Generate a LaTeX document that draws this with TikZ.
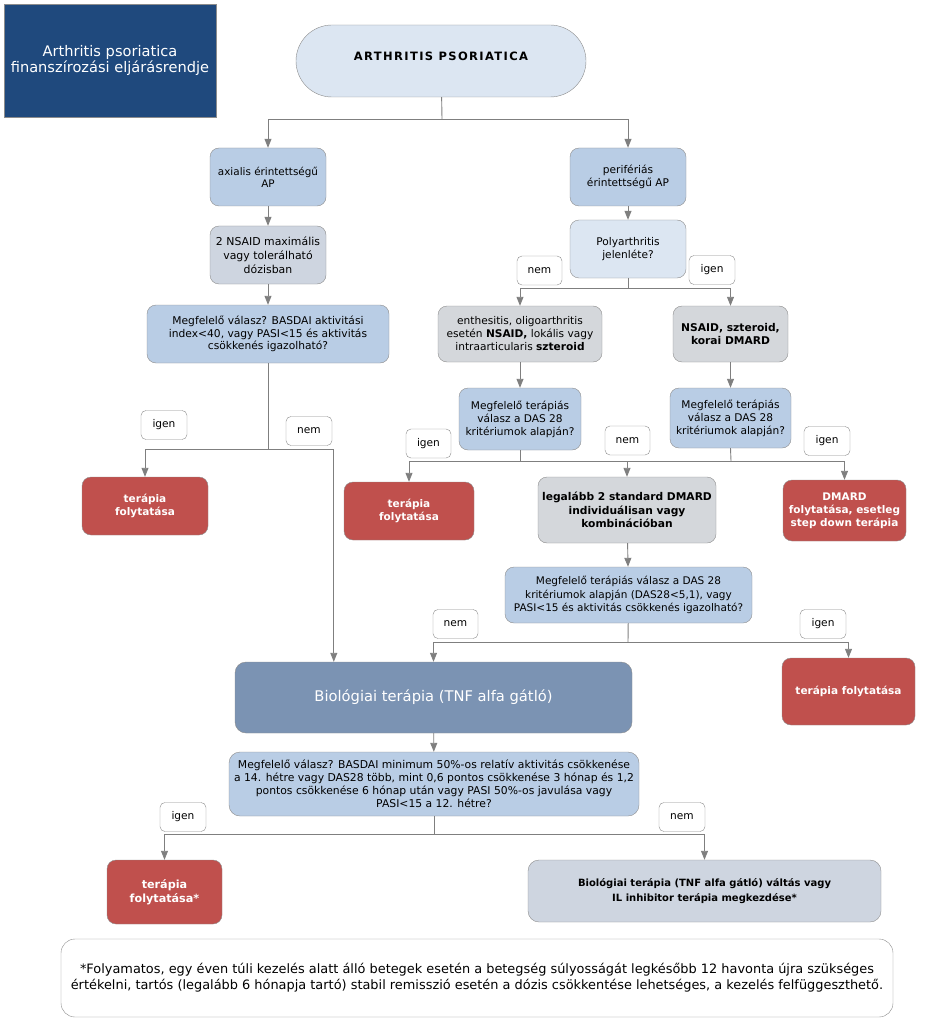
\documentclass[tikz,border=0pt]{standalone}
\usepackage{fontspec}
\setmainfont{DejaVu Sans}
\newfontfamily\spacedfont{DejaVu Sans}[LetterSpace=12]
\usetikzlibrary{arrows.meta}

\definecolor{titleblue}{HTML}{1F497D}
\definecolor{boxblue}{HTML}{B9CDE5}
\definecolor{paleblue}{HTML}{DCE6F2}
\definecolor{boxgray}{HTML}{D4D7DB}
\definecolor{bluegray}{HTML}{CED5E0}
\definecolor{boxred}{HTML}{C0504D}
\definecolor{steelblue}{HTML}{7B93B3}
\definecolor{framegray}{HTML}{8C8C8C}
\definecolor{linegray}{HTML}{7F7F7F}

\begin{document}
\begin{tikzpicture}[x=1pt,y=-1pt,
  box/.style={draw=framegray, rounded corners=9pt, align=center, inner sep=0pt,
    font=\fontsize{10.6}{13}\selectfont},
  bluebox/.style={box, fill=boxblue},
  palebox/.style={box, fill=paleblue},
  graybox/.style={box, fill=boxgray},
  boldbox/.style={box, fill=boxgray, font=\fontsize{10.7}{13.3}\selectfont\bfseries},
  redbox/.style={box, fill=boxred, text=white, font=\fontsize{10.5}{13}\selectfont\bfseries},
  tag/.style={draw=framegray, fill=white, rounded corners=5pt, minimum width=46pt,
    minimum height=29pt, inner sep=0pt, font=\fontsize{10.6}{13}\selectfont},
  conn/.style={draw=linegray, line width=0.9pt},
  arr/.style={conn, -{Triangle[width=7pt,length=9pt]}}
]
\useasboundingbox (0,0) rectangle (930,1024);

% header
\node[fill=titleblue, draw=framegray, text=white, align=center, minimum width=212pt,
  minimum height=113pt, inner sep=0pt, font=\fontsize{14.6}{15.5}\selectfont] (title) at (110,60.5)
  {Arthritis psoriatica\\finanszírozási eljárásrendje};
\node[palebox, rounded corners=36pt, minimum width=290pt, minimum height=72pt,
  font=\spacedfont\fontsize{11.5}{13}\selectfont\bfseries] (start) at (441,61)
  {\raisebox{10pt}{ARTHRITIS PSORIATICA}};

% axialis ag
\node[bluebox, minimum width=116pt, minimum height=58pt, font=\fontsize{10.4}{12}\selectfont] (axial) at (268,177)
  {axialis érintettségű\\AP};
\node[box, fill=bluegray, minimum width=116pt, minimum height=58pt, font=\fontsize{10.9}{14}\selectfont] (nsaid) at (268,255)
  {2 NSAID maximális\\vagy tolerálható\\dózisban};
\node[bluebox, minimum width=242pt, minimum height=58pt, font=\fontsize{10.7}{12.5}\selectfont] (basdai) at (268,334)
  {Megfelelő válasz? BASDAI aktivitási\\index<40, vagy PASI<15 és aktivitás\\csökkenés igazolható?};
\node[redbox, minimum width=126pt, minimum height=58pt] (ter1) at (145,506)
  {terápia\\folytatása};
\node[tag] (igen1) at (164,425) {igen};
\node[tag] (nem1) at (309,431) {nem};

% periferias ag
\node[bluebox, minimum width=116pt, minimum height=58pt] (periph) at (628,177)
  {perifériás\\érintettségű AP};
\node[palebox, minimum width=116pt, minimum height=58pt] (poly) at (628,249)
  {Polyarthritis\\jelenléte?};
\node[tag, minimum width=45pt] (nem2) at (539.5,270.5) {nem};
\node[tag] (igen2) at (712,270) {igen};
\node[graybox, minimum width=164pt, minimum height=56pt] (enthes) at (520,334)
  {enthesitis, oligoarthritis\\esetén \textbf{NSAID,} lokális vagy\\intraarticularis \textbf{szteroid}};
\node[boldbox, minimum width=115pt, minimum height=56pt] (nsaid2) at (730.5,334)
  {NSAID, szteroid,\\korai DMARD};
\node[bluebox, minimum width=122pt, minimum height=62pt] (das1) at (520,419)
  {Megfelelő terápiás\\válasz a DAS 28\\kritériumok alapján?};
\node[bluebox, minimum width=121pt, minimum height=60pt] (das2) at (730.5,418)
  {Megfelelő terápiás\\válasz a DAS 28\\kritériumok alapján?};
\node[tag, minimum width=45pt] (igen3) at (428.5,443.5) {igen};
\node[tag, minimum width=45pt] (nem3) at (627.5,440.5) {nem};
\node[tag] (igen4) at (827,441) {igen};
\node[redbox, minimum width=130pt, minimum height=58pt] (ter2) at (409,511)
  {terápia\\folytatása};
\node[boldbox, minimum width=178pt, minimum height=66pt] (legalabb) at (627,510)
  {legalább 2 standard DMARD\\individuálisan vagy\\kombinációban};
\node[redbox, minimum width=123pt, minimum height=61pt] (dmard) at (844.5,510.5)
  {DMARD\\folytatása, esetleg\\step down terápia};
\node[bluebox, minimum width=247pt, minimum height=56pt, font=\fontsize{10.5}{13.5}\selectfont] (das3) at (628.5,595)
  {Megfelelő terápiás válasz a DAS 28\\kritériumok alapján (DAS28<5,1), vagy\\PASI<15 és aktivitás csökkenés igazolható?};
\node[tag, minimum width=45pt] (nem4) at (455.5,624) {nem};
\node[tag] (igen5) at (823,624) {igen};
\node[redbox, minimum width=133pt, minimum height=67pt] (ter3) at (848.5,691.5) {terápia folytatása};

% biologiai terapia
\node[box, fill=steelblue, text=white, minimum width=397pt, minimum height=71pt,
  rounded corners=11pt, font=\fontsize{14.7}{17}\selectfont] (bio) at (433.5,697.5)
  {Biológiai terápia (TNF alfa gátló)};
\node[bluebox, minimum width=410pt, minimum height=64pt, rounded corners=11pt,
  font=\fontsize{10.8}{13}\selectfont] (basdai2) at (434,784)
  {Megfelelő válasz? BASDAI minimum 50\%-os relatív aktivitás csökkenése\\a 14. hétre vagy DAS28 több, mint 0,6 pontos csökkenése 3 hónap és 1,2\\pontos csökkenése 6 hónap után vagy PASI 50\%-os javulása vagy\\PASI<15 a 12. hétre?};
\node[tag] (igen6) at (183,817) {igen};
\node[tag] (nem6) at (682,817) {nem};
\node[redbox, minimum width=115pt, minimum height=64pt, font=\fontsize{11.2}{14}\selectfont\bfseries]
  (ter4) at (164.5,892) {terápia\\folytatása*};
\node[box, fill=bluegray, minimum width=353pt, minimum height=62pt, rounded corners=11pt,
  font=\fontsize{10}{15}\selectfont\bfseries] (bio2) at (704.5,891)
  {Biológiai terápia (TNF alfa gátló) váltás vagy\\IL inhibitor terápia megkezdése*};
\node[box, fill=white, minimum width=832pt, minimum height=78pt, rounded corners=14pt,
  font=\fontsize{12.9}{16}\selectfont] (foot) at (477,978)
  {*Folyamatos, egy éven túli kezelés alatt álló betegek esetén a betegség súlyosságát legkésőbb 12 havonta újra szükséges\\értékelni, tartós (legalább 6 hónapja tartó) stabil remisszió esetén a dózis csökkentése lehetséges, a kezelés felfüggeszthető.};

% connectors
\coordinate (j1) at (442,119);
\coordinate (j2) at (268,449);
\coordinate (j3) at (628,288);
\coordinate (j4) at (520,461);
\coordinate (j5) at (731,461);
\coordinate (j6) at (628,642);
\coordinate (j7) at (434,834);
\coordinate (bioin) at ([xshift=99pt]bio.north west);

\draw[conn] (start) -- (j1);
\draw[arr] (j1) -| (axial);
\draw[arr] (j1) -| (periph);
\draw[arr] (axial) -- (nsaid);
\draw[arr] (nsaid) -- (basdai);
\draw[conn] (basdai) -- (j2);
\draw[arr] (j2) -| (ter1);
\draw[arr] (j2) -| (bioin);

\draw[arr] (periph) -- (poly);
\draw[conn] (poly) -- (j3);
\draw[arr] (j3) -| (enthes);
\draw[arr] (j3) -| (nsaid2);
\draw[arr] (enthes) -- (das1);
\draw[arr] (nsaid2) -- (das2);
\draw[conn] (das1) -- (j4);
\draw[conn] (das2.south) -- (j5);
\draw[arr] (j4) -| (ter2);
\draw[conn] (j4) -- (j5);
\draw[arr] (j5) -| (dmard);
\draw[arr] (legalabb.north |- j4) -- (legalabb);
\draw[arr] (legalabb) -- (das3);
\draw[conn] (das3) -- (j6);
\draw[arr] (j6) -| (bio);
\draw[arr] (j6) -| (ter3);
\draw[arr] (bio) -- (basdai2);
\draw[conn] (basdai2) -- (j7);
\draw[arr] (j7) -| (ter4);
\draw[arr] (j7) -| (bio2);
\end{tikzpicture}
\end{document}
